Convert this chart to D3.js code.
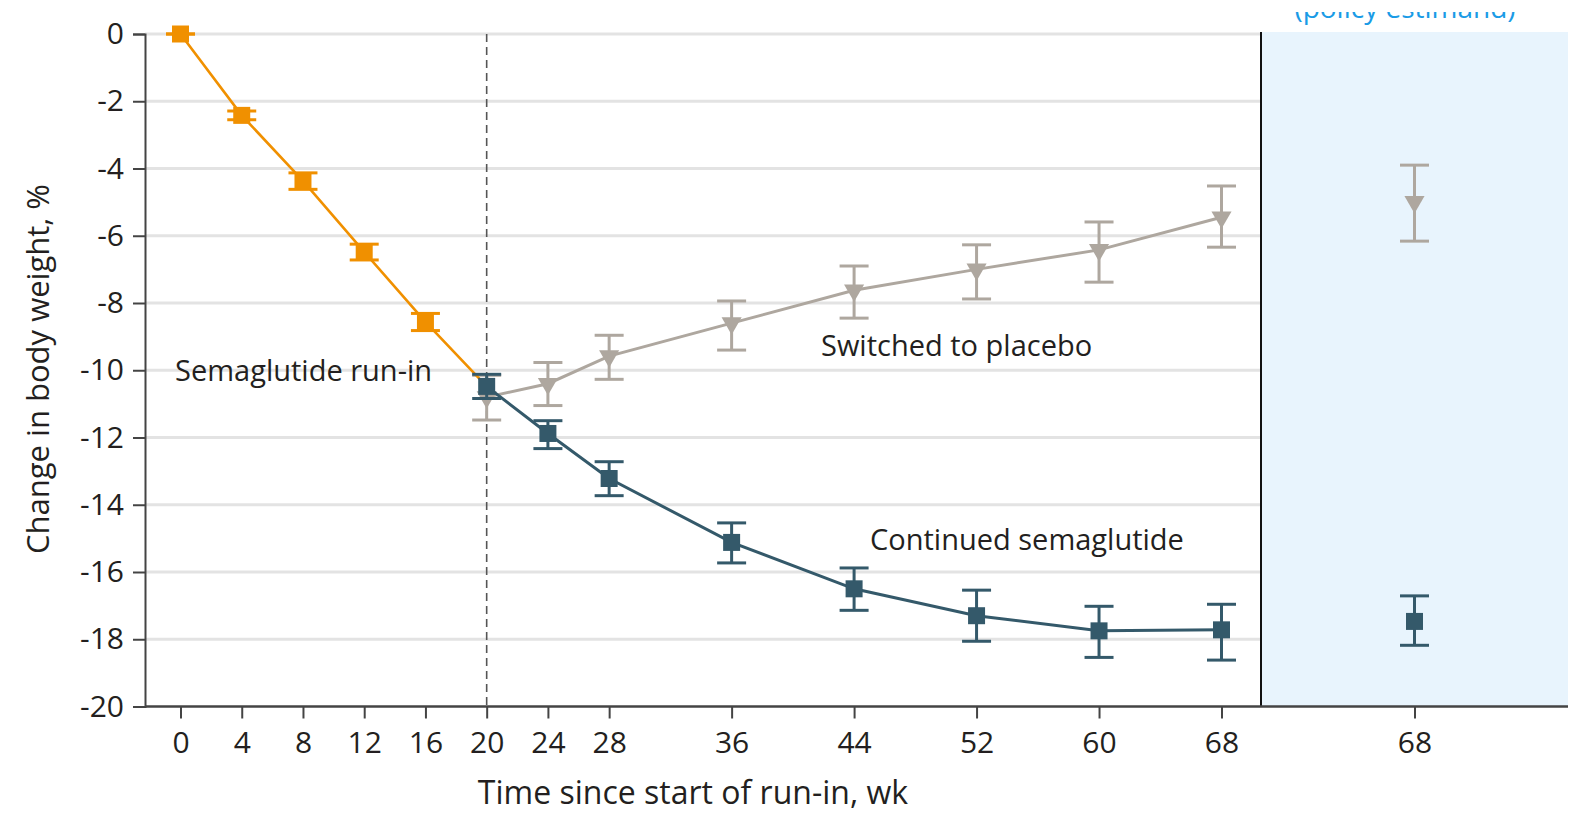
<!DOCTYPE html>
<html>
<head>
<meta charset="utf-8">
<script src="https://cdn.jsdelivr.net/npm/d3@7"></script>
<style>
  html, body { margin: 0; padding: 0; background: #fff; }
  svg { display: block; font-family: "Open Sans", sans-serif; }
</style>
</head>
<body>
<svg id="chart" width="1574" height="819"></svg>
<script>
// run-in period (orange)
const runInWeeks = [0, 4, 8, 12, 16, 20];
const runInMean = [0, -2.42, -4.37, -6.48, -8.56, -10.48];
const runInLow = [0, -2.55, -4.62, -6.72, -8.82, null];
const runInHigh = [0, -2.29, -4.13, -6.25, -8.31, null];

// continued semaglutide (teal)
const contWeeks = [20, 24, 28, 36, 44, 52, 60, 68];
const contMean = [-10.48, -11.88, -13.22, -15.12, -16.5, -17.3, -17.75, -17.72];
const contLow = [-10.84, -12.33, -13.73, -15.73, -17.14, -18.06, -18.54, -18.62];
const contHigh = [-10.12, -11.5, -12.72, -14.54, -15.88, -16.54, -17.02, -16.96];

// switched to placebo (gray)
const plcWeeks = [20, 24, 28, 36, 44, 52, 60, 68];
const plcMean = [-10.8, -10.4, -9.58, -8.6, -7.62, -7.0, -6.42, -5.45];
const plcLow = [-11.48, -11.05, -10.27, -9.4, -8.45, -7.88, -7.38, -6.34];
const plcHigh = [-10.15, -9.77, -8.96, -7.94, -6.9, -6.27, -5.59, -4.52];

// week 68 policy estimand panel
const panelMean = { cont: -17.47, plc: -4.99 };
const panelLow = { cont: -18.18, plc: -6.16 };
const panelHigh = { cont: -16.71, plc: -3.9 };

const xTicks = [0, 4, 8, 12, 16, 20, 24, 28, 36, 44, 52, 60, 68];
const yTicks = [0, -2, -4, -6, -8, -10, -12, -14, -16, -18, -20];

const colors = { runIn: "#f09000", cont: "#34596a", plc: "#aea79f", text: "#231f20" };

const svg = d3.select("#chart");
const tickFont = 30;
const titleFont = 31;
const labelFont = 29;

const x = d3.scaleLinear().domain([0, 68]).range([180.5, 1221.5]);
const y = d3.scaleLinear().domain([-20, 0]).range([706.5, 34]);
const splitX = 1261;
const panelRight = 1568;
const xp = d3.scaleLinear().domain([0, 1]).range([splitX, panelRight]);
const axisLeftX = 145;

// panel background
svg.append("rect")
  .attr("x", splitX).attr("y", 32)
  .attr("width", panelRight - splitX).attr("height", y(-20) - 32)
  .attr("fill", "#e8f4fd");

// gridlines
svg.append("g")
  .selectAll("line")
  .data(yTicks.filter(d => d !== -20))
  .enter()
  .append("line")
  .attr("x1", axisLeftX).attr("x2", splitX)
  .attr("y1", d => y(d)).attr("y2", d => y(d))
  .attr("stroke", "#e3e3e3")
  .attr("stroke-width", 3);

// dashed line at end of run-in
svg.append("line")
  .attr("x1", x(20)).attr("x2", x(20))
  .attr("y1", y(0)).attr("y2", y(-20))
  .attr("stroke", "#555")
  .attr("stroke-width", 1.6)
  .attr("stroke-dasharray", "8,5");

// separator
svg.append("line")
  .attr("x1", splitX).attr("x2", splitX)
  .attr("y1", 32).attr("y2", y(-20))
  .attr("stroke", "#111")
  .attr("stroke-width", 2);

// axes
const yAxis = svg.append("g")
  .attr("transform", `translate(${axisLeftX},0)`)
  .call(d3.axisLeft(y).tickValues(yTicks).tickSize(12).tickPadding(9).tickFormat(d3.format("d")));
yAxis.select(".domain").attr("stroke", "#444").attr("stroke-width", 2);
yAxis.selectAll(".tick line").attr("stroke", "#444").attr("stroke-width", 2);
yAxis.selectAll("text")
  .attr("font-size", tickFont)
  .attr("font-family", "Open Sans, sans-serif")
  .attr("fill", colors.text)
  .text(d => d === 0 ? "0" : "-" + Math.abs(d));

const xAxisY = y(-20);
svg.append("line")
  .attr("x1", axisLeftX).attr("x2", panelRight)
  .attr("y1", xAxisY).attr("y2", xAxisY)
  .attr("stroke", "#444").attr("stroke-width", 2.5);

const xAxis = svg.append("g")
  .attr("transform", `translate(0,${xAxisY})`)
  .call(d3.axisBottom(x).tickValues(xTicks).tickSize(12).tickPadding(13).tickFormat(d3.format("d")));
xAxis.select(".domain").remove();

const xAxis2 = svg.append("g")
  .attr("transform", `translate(0,${xAxisY})`)
  .call(d3.axisBottom(xp).tickValues([0.5]).tickSize(12).tickPadding(13).tickFormat(() => "68"));
xAxis2.select(".domain").remove();

[xAxis, xAxis2].forEach(g => {
  g.selectAll(".tick line").attr("stroke", "#444").attr("stroke-width", 2);
  g.selectAll("text")
    .attr("font-size", tickFont)
    .attr("font-family", "Open Sans, sans-serif")
    .attr("fill", colors.text);
});

// axis titles
svg.append("text")
  .attr("x", 693)
  .attr("y", 804)
  .attr("text-anchor", "middle")
  .attr("font-size", 32)
  .attr("fill", colors.text)
  .text("Time since start of run-in, wk");

svg.append("text")
  .attr("transform", "rotate(-90)")
  .attr("x", -369)
  .attr("y", 49)
  .attr("text-anchor", "middle")
  .attr("font-size", titleFont)
  .attr("fill", colors.text)
  .text("Change in body weight, %");

// panel heading, only its lower edge shows in the source figure
svg.append("clipPath").attr("id", "headClip")
  .append("rect").attr("x", 1200).attr("y", 12).attr("width", 374).attr("height", 20);

svg.append("text")
  .attr("x", 1405)
  .attr("y", 18)
  .attr("text-anchor", "middle")
  .attr("font-size", 28)
  .attr("fill", "#1a9be6")
  .attr("clip-path", "url(#headClip)")
  .text("(policy estimand)");

function series(weeks, mean, low, high) {
  return weeks.map((w, i) => ({ w, m: mean[i], lo: low[i], hi: high[i] }));
}

const runIn = series(runInWeeks, runInMean, runInLow, runInHigh);
const cont = series(contWeeks, contMean, contLow, contHigh);
const plc = series(plcWeeks, plcMean, plcLow, plcHigh);

const line = d3.line().x(d => x(d.w)).y(d => y(d.m));
const capW = 14.5;

function drawErrors(data, xpos, color, width) {
  const g = svg.append("g").attr("stroke", color).attr("stroke-width", width).attr("fill", "none");
  const pts = data.filter(d => d.lo !== null);
  g.selectAll(".v").data(pts).enter().append("line")
    .attr("x1", xpos).attr("x2", xpos)
    .attr("y1", d => y(d.lo)).attr("y2", d => y(d.hi));
  g.selectAll(".lo").data(pts).enter().append("line")
    .attr("x1", d => xpos(d) - capW).attr("x2", d => xpos(d) + capW)
    .attr("y1", d => y(d.lo)).attr("y2", d => y(d.lo));
  g.selectAll(".hi").data(pts).enter().append("line")
    .attr("x1", d => xpos(d) - capW).attr("x2", d => xpos(d) + capW)
    .attr("y1", d => y(d.hi)).attr("y2", d => y(d.hi));
}

const square = d3.symbol().type(d3.symbolSquare).size(17 * 17);
const tri = d3.symbol().type(d3.symbolTriangle).size(175);

// placebo
svg.append("path").datum(plc).attr("d", line)
  .attr("fill", "none").attr("stroke", colors.plc).attr("stroke-width", 3);
drawErrors(plc, d => x(d.w), colors.plc, 3);
svg.append("g").selectAll("path").data(plc).enter().append("path")
  .attr("d", tri)
  .attr("transform", d => `translate(${x(d.w)},${y(d.m)}) rotate(180)`)
  .attr("fill", colors.plc);

// run-in
svg.append("path").datum(runIn).attr("d", line)
  .attr("fill", "none").attr("stroke", colors.runIn).attr("stroke-width", 2.6);
drawErrors(runIn, d => x(d.w), colors.runIn, 3);
svg.append("g").selectAll("path").data(runIn.filter(d => d.lo !== null)).enter().append("path")
  .attr("d", square)
  .attr("transform", d => `translate(${x(d.w)},${y(d.m)})`)
  .attr("fill", colors.runIn);

// continued semaglutide
svg.append("path").datum(cont).attr("d", line)
  .attr("fill", "none").attr("stroke", colors.cont).attr("stroke-width", 3);
drawErrors(cont, d => x(d.w), colors.cont, 3);
svg.append("g").selectAll("path").data(cont).enter().append("path")
  .attr("d", square)
  .attr("transform", d => `translate(${x(d.w)},${y(d.m)})`)
  .attr("fill", colors.cont);

// week 68 panel points
const panelPts = [
  { key: "plc", color: colors.plc, shape: "tri" },
  { key: "cont", color: colors.cont, shape: "sq" }
].map(p => ({ ...p, m: panelMean[p.key], lo: panelLow[p.key], hi: panelHigh[p.key] }));

panelPts.forEach(p => {
  drawErrors([p], () => xp(0.5), p.color, 3);
  svg.append("path")
    .attr("d", p.shape === "tri" ? tri : square)
    .attr("transform", `translate(${xp(0.5)},${y(p.m)})` + (p.shape === "tri" ? " rotate(180)" : ""))
    .attr("fill", p.color);
});

// series labels
const labels = [
  { text: "Semaglutide run-in", x: 175, y: 381 },
  { text: "Switched to placebo", x: 821, y: 356 },
  { text: "Continued semaglutide", x: 870, y: 550 }
];
svg.append("g").selectAll("text").data(labels).enter().append("text")
  .attr("x", d => d.x).attr("y", d => d.y)
  .attr("font-size", labelFont)
  .attr("fill", colors.text)
  .text(d => d.text);
</script>
</body>
</html>
